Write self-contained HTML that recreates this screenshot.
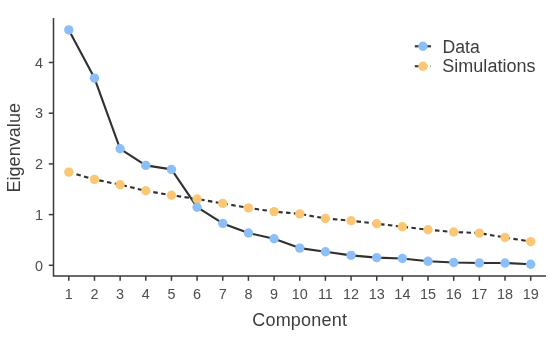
<!DOCTYPE html><html><head><meta charset="utf-8"><title>Scree plot</title><style>html,body{margin:0;padding:0;background:#fff}svg{display:block}text{font-family:"Liberation Sans",Arial,sans-serif}</style></head><body>
<svg width="550" height="337" viewBox="0 0 550 337">
<rect width="550" height="337" fill="#ffffff"/>
<g stroke="#3a3a3a" stroke-width="1.5" fill="none">
<path d="M53.5 18.1 V276.0 H546"/>
<path d="M68.80 276.0 V280.8"/>
<path d="M94.46 276.0 V280.8"/>
<path d="M120.12 276.0 V280.8"/>
<path d="M145.78 276.0 V280.8"/>
<path d="M171.44 276.0 V280.8"/>
<path d="M197.10 276.0 V280.8"/>
<path d="M222.76 276.0 V280.8"/>
<path d="M248.42 276.0 V280.8"/>
<path d="M274.08 276.0 V280.8"/>
<path d="M299.74 276.0 V280.8"/>
<path d="M325.40 276.0 V280.8"/>
<path d="M351.06 276.0 V280.8"/>
<path d="M376.72 276.0 V280.8"/>
<path d="M402.38 276.0 V280.8"/>
<path d="M428.04 276.0 V280.8"/>
<path d="M453.70 276.0 V280.8"/>
<path d="M479.36 276.0 V280.8"/>
<path d="M505.02 276.0 V280.8"/>
<path d="M530.68 276.0 V280.8"/>
<path d="M48.8 265.30 H53.5"/>
<path d="M48.8 214.60 H53.5"/>
<path d="M48.8 163.90 H53.5"/>
<path d="M48.8 113.20 H53.5"/>
<path d="M48.8 62.50 H53.5"/>
</g>
<g fill="#4d4d4d" font-size="15.5">
<text transform="translate(68.80 299.1) scale(0.93 1)" text-anchor="middle">1</text>
<text transform="translate(94.46 299.1) scale(0.93 1)" text-anchor="middle">2</text>
<text transform="translate(120.12 299.1) scale(0.93 1)" text-anchor="middle">3</text>
<text transform="translate(145.78 299.1) scale(0.93 1)" text-anchor="middle">4</text>
<text transform="translate(171.44 299.1) scale(0.93 1)" text-anchor="middle">5</text>
<text transform="translate(197.10 299.1) scale(0.93 1)" text-anchor="middle">6</text>
<text transform="translate(222.76 299.1) scale(0.93 1)" text-anchor="middle">7</text>
<text transform="translate(248.42 299.1) scale(0.93 1)" text-anchor="middle">8</text>
<text transform="translate(274.08 299.1) scale(0.93 1)" text-anchor="middle">9</text>
<text transform="translate(299.74 299.1) scale(0.93 1)" text-anchor="middle">10</text>
<text transform="translate(325.40 299.1) scale(0.93 1)" text-anchor="middle">11</text>
<text transform="translate(351.06 299.1) scale(0.93 1)" text-anchor="middle">12</text>
<text transform="translate(376.72 299.1) scale(0.93 1)" text-anchor="middle">13</text>
<text transform="translate(402.38 299.1) scale(0.93 1)" text-anchor="middle">14</text>
<text transform="translate(428.04 299.1) scale(0.93 1)" text-anchor="middle">15</text>
<text transform="translate(453.70 299.1) scale(0.93 1)" text-anchor="middle">16</text>
<text transform="translate(479.36 299.1) scale(0.93 1)" text-anchor="middle">17</text>
<text transform="translate(505.02 299.1) scale(0.93 1)" text-anchor="middle">18</text>
<text transform="translate(530.68 299.1) scale(0.93 1)" text-anchor="middle">19</text>
<text transform="translate(43.1 270.50) scale(0.93 1)" text-anchor="end">0</text>
<text transform="translate(43.1 219.80) scale(0.93 1)" text-anchor="end">1</text>
<text transform="translate(43.1 169.10) scale(0.93 1)" text-anchor="end">2</text>
<text transform="translate(43.1 118.40) scale(0.93 1)" text-anchor="end">3</text>
<text transform="translate(43.1 67.70) scale(0.93 1)" text-anchor="end">4</text>
</g>
<g fill="#3d3d3d" font-size="18">
<text x="299.6" y="326.3" text-anchor="middle" textLength="94.8" lengthAdjust="spacing">Component</text>
<text transform="translate(20.3 147.8) rotate(-90)" text-anchor="middle" textLength="89.6" lengthAdjust="spacing">Eigenvalue</text>
</g>
<polyline points="68.80,29.90 94.46,78.10 120.12,148.80 145.78,165.40 171.44,169.40 197.10,207.20 222.76,223.40 248.42,233.00 274.08,238.80 299.74,248.10 325.40,251.80 351.06,255.40 376.72,257.60 402.38,258.50 428.04,261.20 453.70,262.50 479.36,263.00 505.02,263.00 530.68,264.30" fill="none" stroke="#303030" stroke-width="2.1" stroke-linejoin="round"/>
<polyline points="68.80,172.10 94.46,179.40 120.12,184.70 145.78,190.80 171.44,195.20 197.10,199.00 222.76,203.40 248.42,207.90 274.08,211.60 299.74,213.90 325.40,218.50 351.06,220.70 376.72,223.70 402.38,226.70 428.04,229.80 453.70,232.00 479.36,233.10 505.02,237.50 530.68,241.60" fill="none" stroke="#303030" stroke-width="2.1" stroke-dasharray="4.5 3.4" stroke-linejoin="round"/>
<g fill="#fcc774">
<circle cx="68.80" cy="172.10" r="4.7"/>
<circle cx="94.46" cy="179.40" r="4.7"/>
<circle cx="120.12" cy="184.70" r="4.7"/>
<circle cx="145.78" cy="190.80" r="4.7"/>
<circle cx="171.44" cy="195.20" r="4.7"/>
<circle cx="197.10" cy="199.00" r="4.7"/>
<circle cx="222.76" cy="203.40" r="4.7"/>
<circle cx="248.42" cy="207.90" r="4.7"/>
<circle cx="274.08" cy="211.60" r="4.7"/>
<circle cx="299.74" cy="213.90" r="4.7"/>
<circle cx="325.40" cy="218.50" r="4.7"/>
<circle cx="351.06" cy="220.70" r="4.7"/>
<circle cx="376.72" cy="223.70" r="4.7"/>
<circle cx="402.38" cy="226.70" r="4.7"/>
<circle cx="428.04" cy="229.80" r="4.7"/>
<circle cx="453.70" cy="232.00" r="4.7"/>
<circle cx="479.36" cy="233.10" r="4.7"/>
<circle cx="505.02" cy="237.50" r="4.7"/>
<circle cx="530.68" cy="241.60" r="4.7"/>
</g>
<g fill="#8cbff7">
<circle cx="68.80" cy="29.90" r="4.7"/>
<circle cx="94.46" cy="78.10" r="4.7"/>
<circle cx="120.12" cy="148.80" r="4.7"/>
<circle cx="145.78" cy="165.40" r="4.7"/>
<circle cx="171.44" cy="169.40" r="4.7"/>
<circle cx="197.10" cy="207.20" r="4.7"/>
<circle cx="222.76" cy="223.40" r="4.7"/>
<circle cx="248.42" cy="233.00" r="4.7"/>
<circle cx="274.08" cy="238.80" r="4.7"/>
<circle cx="299.74" cy="248.10" r="4.7"/>
<circle cx="325.40" cy="251.80" r="4.7"/>
<circle cx="351.06" cy="255.40" r="4.7"/>
<circle cx="376.72" cy="257.60" r="4.7"/>
<circle cx="402.38" cy="258.50" r="4.7"/>
<circle cx="428.04" cy="261.20" r="4.7"/>
<circle cx="453.70" cy="262.50" r="4.7"/>
<circle cx="479.36" cy="263.00" r="4.7"/>
<circle cx="505.02" cy="263.00" r="4.7"/>
<circle cx="530.68" cy="264.30" r="4.7"/>
</g>
<g stroke="#303030" stroke-width="2.1" fill="none">
<path d="M414.8 46.3 H431"/>
<path d="M414.8 66.3 H431" stroke-dasharray="4.5 3.4"/>
</g>
<circle cx="422.9" cy="46.3" r="4.7" fill="#8cbff7"/>
<circle cx="423" cy="66.3" r="4.7" fill="#fcc774"/>
<g fill="#3d3d3d" font-size="18">
<text x="442.5" y="52.7" textLength="37.2" lengthAdjust="spacingAndGlyphs">Data</text>
<text x="442.3" y="72.3" textLength="93.2" lengthAdjust="spacing">Simulations</text>
</g>
</svg></body></html>
